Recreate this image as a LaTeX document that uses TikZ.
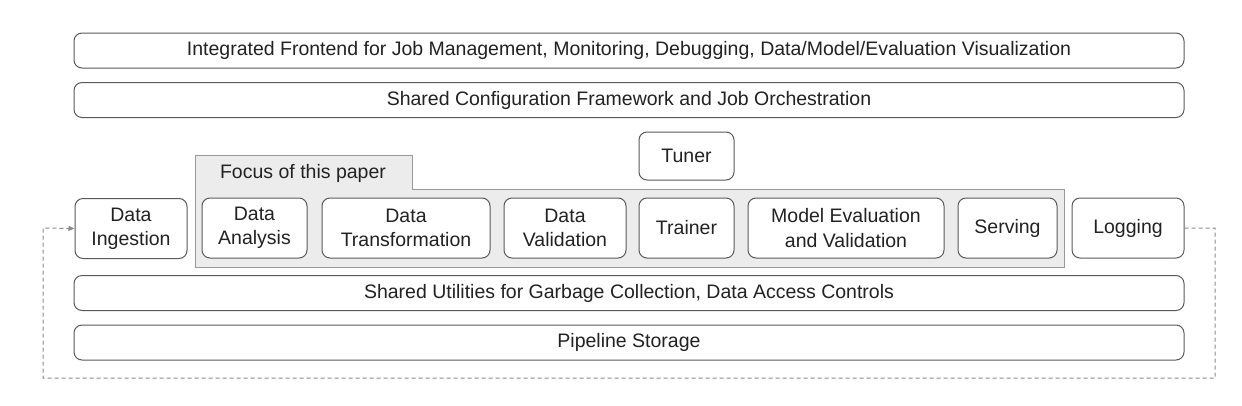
\documentclass[tikz,border=0pt]{standalone}
\usepackage{fontspec}
\setmainfont{Liberation Sans}
\usetikzlibrary{arrows.meta}
\definecolor{edge}{HTML}{5A5A5A}
\definecolor{txt}{HTML}{222222}
\definecolor{focusfill}{HTML}{ECECEC}
\definecolor{focusedge}{HTML}{9A9A9A}
\definecolor{loop}{HTML}{8A8A8A}
\begin{document}
\begin{tikzpicture}[x=1pt,y=-1pt,
  box/.style={draw=edge,line width=1pt,rounded corners=8pt,fill=white,text=txt,
    inner sep=0pt,align=center,font=\fontsize{19.5}{24.3}\selectfont},
  bar/.style={box,minimum width=1110pt,minimum height=35pt},
  mod/.style={box,minimum height=60pt},
  loopline/.style={draw=loop,line width=1pt,dash pattern=on 4pt off 3pt}]
\useasboundingbox (0,0) rectangle (1242,405);
% focus region
\path[fill=focusfill,draw=focusedge,line width=0.8pt]
  (195,155) -- (412,155) -- (412,189) -- (1064,189) -- (1064,267) -- (195,267) -- cycle;
\node[text=txt,font=\fontsize{19.5}{24.3}\selectfont] (focus) at (303,173) {Focus of this paper};
% bars
\node[bar] (frontend) at (629,50.5) {Integrated Frontend for Job Management, Monitoring, Debugging, Data/Model/Evaluation Visualization};
\node[bar] (config) at (629,100) {Shared Configuration Framework and Job Orchestration};
\node[bar] (utilities) at (629,293) {Shared Utilities for Garbage Collection, Data Access Controls};
\node[bar] (storage) at (629,342.5) {Pipeline Storage};
% modules
\node[box,minimum width=95pt,minimum height=48pt] (tuner) at (686.5,156) {Tuner};
\node[mod,minimum width=112pt] (ingest) at (131,228.5) {Data\\Ingestion};
\node[mod,minimum width=105pt] (analysis) at (254.5,228) {Data\\Analysis};
\node[mod,minimum width=168pt] (transform) at (406,228) {Data\\Transformation};
\node[mod,minimum width=122pt] (validation) at (565,228) {Data\\Validation};
\node[mod,minimum width=95pt] (trainer) at (686.5,228) {Trainer};
\node[mod,minimum width=196pt] (modeleval) at (846,228) {Model Evaluation\\and Validation};
\node[mod,minimum width=99pt] (serving) at (1007.5,228) {Serving};
\node[mod,minimum width=112pt] (logging) at (1128,228) {Logging};
% feedback loop
\coordinate (c1) at (1215,228);
\coordinate (c2) at (1215,378);
\coordinate (c3) at (43,378);
\coordinate (c4) at (43,228);
\draw[loopline,-{Triangle[length=6pt,width=5pt,fill=loop]}]
  (logging.east) -- (c1) -- (c2) -- (c3) -- (c4) -- (ingest.west);
\end{tikzpicture}
\end{document}
